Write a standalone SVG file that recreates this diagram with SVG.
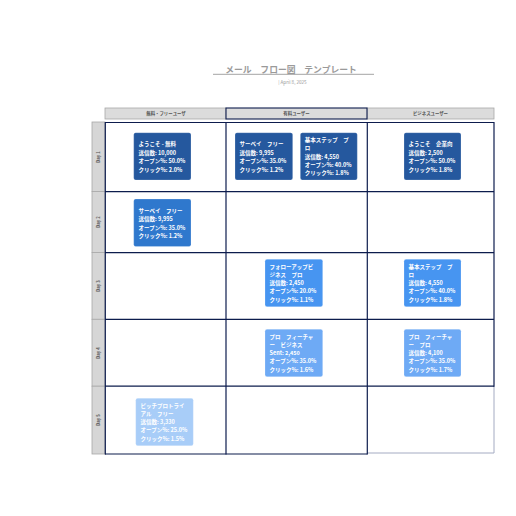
<svg xmlns="http://www.w3.org/2000/svg" width="516" height="516" viewBox="0 0 516 516">
<style>
text{font-family:"Noto Sans CJK JP","Noto Sans",sans-serif}
.title{font-size:8.8px;font-weight:bold;fill:#9a9a9a}
.sub{font-size:4.6px;fill:#9a9a9a}
.hdr{fill:#dcdcdc;stroke:#a8a8a8;stroke-width:0.8}
.hdrsel{fill:#dcdcdc;stroke:#0d1c4d;stroke-width:1.1}
.htxt{font-size:4.4px;font-weight:bold;fill:#555;text-anchor:middle}
.lab{fill:#d6d6d6;stroke:#a8a8a8;stroke-width:0.8}
.ltxt{font-size:4.2px;font-weight:bold;fill:#555;text-anchor:middle}
.grid{stroke:#0d1c4d;stroke-width:1.2;fill:none}
.gridl{stroke:#a4abc2;stroke-width:1;fill:none}
.card{stroke:#ffffff;stroke-opacity:0.35;stroke-width:0.6}
.ct{font-size:5.5px;font-weight:bold;fill:#fff}
.c1{fill:#25589e}.c2{fill:#2f78cd}.c3{fill:#4795f1}.c4{fill:#6eaaf5}.c5{fill:#a8cdf8}
</style>
<g id="title">
<text class="title" x="291" y="72.5" text-anchor="middle">メール　フロー図　テンプレート</text>
<line x1="213" y1="74.3" x2="374" y2="74.3" stroke="#9a9a9a" stroke-width="0.9"/>
<text class="sub" x="292.5" y="84" text-anchor="middle">| April 8, 2025</text>
</g>
<g id="headers">
<rect class="hdr" x="105" y="108" width="121" height="11"/>
<rect class="hdr" x="367" y="108" width="127" height="11"/>
<rect class="hdrsel" x="226" y="108" width="141" height="11"/>
<text class="htxt" x="166" y="115.2">無料・フリーユーザ</text>
<text class="htxt" x="296.5" y="115.2">有料ユーザー</text>
<text class="htxt" x="430.5" y="115.2">ビジネスユーザー</text>
</g>
<g id="rowlabels">
<rect class="lab" x="92" y="122" width="13" height="69.5"/>
<rect class="lab" x="92" y="191.5" width="13" height="61"/>
<rect class="lab" x="92" y="252.5" width="13" height="66.8"/>
<rect class="lab" x="92" y="319.3" width="13" height="66.9"/>
<rect class="lab" x="92" y="386.2" width="13" height="67.8"/>
<text class="ltxt" transform="translate(99.5,157) rotate(-90)">Day 1</text>
<text class="ltxt" transform="translate(99.5,222) rotate(-90)">Day 2</text>
<text class="ltxt" transform="translate(99.5,286) rotate(-90)">Day 3</text>
<text class="ltxt" transform="translate(99.5,353) rotate(-90)">Day 4</text>
<text class="ltxt" transform="translate(99.5,420) rotate(-90)">Day 5</text>
</g>
<g id="grid">
<polyline class="gridl" points="367.3,453 494,453 494,386.2"/>
<line class="grid" x1="105" y1="122.5" x2="494" y2="122.5"/>
<line class="grid" x1="105" y1="191.6" x2="494" y2="191.6"/>
<line class="grid" x1="105" y1="252.6" x2="494" y2="252.6"/>
<line class="grid" x1="105" y1="319.3" x2="494" y2="319.3"/>
<line class="grid" x1="105" y1="386.2" x2="494" y2="386.2"/>
<line class="grid" x1="105" y1="454" x2="367.3" y2="454"/>
<line class="grid" x1="105.3" y1="122" x2="105.3" y2="454.5"/>
<line class="grid" x1="226" y1="122" x2="226" y2="454.5"/>
<line class="grid" x1="367.3" y1="122" x2="367.3" y2="454.5"/>
<line class="grid" x1="494" y1="122" x2="494" y2="386.8"/>
</g>
<g id="n1">
<rect class="card c1" x="133.7" y="132.7" width="57.3" height="47.3" rx="2"/>
<text class="ct" x="138.5" y="146">ようこそ - 無料</text>
<text class="ct" x="138.5" y="154.5">送信数: 10,000</text>
<text class="ct" x="138.5" y="163">オープン%: 50.0%</text>
<text class="ct" x="138.5" y="171.5">クリック%: 2.0%</text>
</g>
<g id="n2">
<rect class="card c1" x="235" y="132.7" width="57.7" height="47.3" rx="2"/>
<text class="ct" x="239.5" y="146">サーベイ　フリー</text>
<text class="ct" x="239.5" y="154.5">送信数: 9,995</text>
<text class="ct" x="239.5" y="163">オープン%: 35.0%</text>
<text class="ct" x="239.5" y="171.5">クリック%: 1.2%</text>
</g>
<g id="n3">
<rect class="card c1" x="300.3" y="132.7" width="57" height="47.3" rx="2"/>
<text class="ct" x="304.8" y="142">基本ステップ　プ</text>
<text class="ct" x="304.8" y="150.3">ロ</text>
<text class="ct" x="304.8" y="158.6">送信数: 4,550</text>
<text class="ct" x="304.8" y="166.9">オープン%: 40.0%</text>
<text class="ct" x="304.8" y="175.2">クリック%: 1.8%</text>
</g>
<g id="n4">
<rect class="card c1" x="404" y="132.7" width="57" height="47.3" rx="2"/>
<text class="ct" x="408.5" y="146">ようこそ　企業向</text>
<text class="ct" x="408.5" y="154.5">送信数: 2,500</text>
<text class="ct" x="408.5" y="163">オープン%: 50.0%</text>
<text class="ct" x="408.5" y="171.5">クリック%: 1.8%</text>
</g>
<g id="n5">
<rect class="card c2" x="133.7" y="199" width="57.3" height="47.5" rx="2"/>
<text class="ct" x="138.5" y="212.5">サーベイ　フリー</text>
<text class="ct" x="138.5" y="221">送信数: 9,995</text>
<text class="ct" x="138.5" y="229.5">オープン%: 35.0%</text>
<text class="ct" x="138.5" y="238">クリック%: 1.2%</text>
</g>
<g id="n6">
<rect class="card c3" x="265" y="259.3" width="57.7" height="47.4" rx="2"/>
<text class="ct" x="269.5" y="268.5">フォローアップビ</text>
<text class="ct" x="269.5" y="276.8">ジネス　プロ</text>
<text class="ct" x="269.5" y="285.1">送信数: 2,450</text>
<text class="ct" x="269.5" y="293.4">オープン%: 20.0%</text>
<text class="ct" x="269.5" y="301.7">クリック%: 1.1%</text>
</g>
<g id="n7">
<rect class="card c3" x="404" y="259.3" width="57" height="47.4" rx="2"/>
<text class="ct" x="408.5" y="268.5">基本ステップ　プ</text>
<text class="ct" x="408.5" y="276.8">ロ</text>
<text class="ct" x="408.5" y="285.1">送信数: 4,550</text>
<text class="ct" x="408.5" y="293.4">オープン%: 40.0%</text>
<text class="ct" x="408.5" y="301.7">クリック%: 1.8%</text>
</g>
<g id="n8">
<rect class="card c4" x="265" y="329.3" width="57.7" height="47.4" rx="2"/>
<text class="ct" x="269.5" y="338.5">プロ　フィーチャ</text>
<text class="ct" x="269.5" y="346.8">ー　ビジネス</text>
<text class="ct" x="269.5" y="355.1">Sent: 2,450</text>
<text class="ct" x="269.5" y="363.4">オープン%: 35.0%</text>
<text class="ct" x="269.5" y="371.7">クリック%: 1.6%</text>
</g>
<g id="n9">
<rect class="card c4" x="404" y="329.3" width="57" height="47.4" rx="2"/>
<text class="ct" x="408.5" y="338.5">プロ　フィーチャ</text>
<text class="ct" x="408.5" y="346.8">ー　プロ</text>
<text class="ct" x="408.5" y="355.1">送信数: 4,100</text>
<text class="ct" x="408.5" y="363.4">オープン%: 35.0%</text>
<text class="ct" x="408.5" y="371.7">クリック%: 1.7%</text>
</g>
<g id="n10">
<rect class="card c5" x="135.7" y="398.3" width="57.6" height="47.4" rx="2"/>
<text class="ct" x="140.5" y="407.5">ピッチプロトライ</text>
<text class="ct" x="140.5" y="415.8">アル　フリー</text>
<text class="ct" x="140.5" y="424.1">送信数: 3,330</text>
<text class="ct" x="140.5" y="432.4">オープン%: 25.0%</text>
<text class="ct" x="140.5" y="440.7">クリック%: 1.5%</text>
</g>
</svg>
